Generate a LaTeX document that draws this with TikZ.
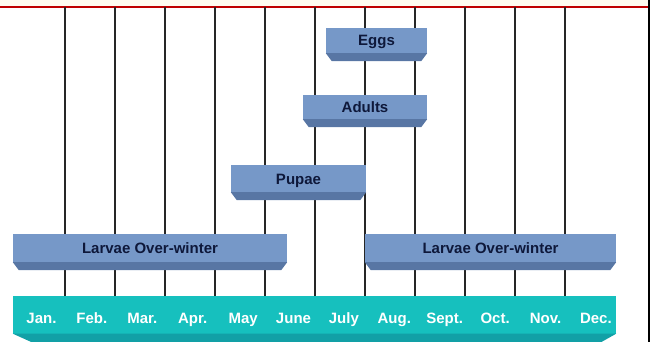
\documentclass[tikz,border=0pt]{standalone}
\usepackage{fontspec}
\setmainfont{Liberation Sans}
\usetikzlibrary{calc}
\definecolor{barface}{RGB}{118,152,200}
\definecolor{barshade}{RGB}{88,118,164}
\definecolor{barink}{RGB}{14,24,58}
\definecolor{monthface}{RGB}{22,192,190}
\definecolor{monthshade}{RGB}{18,160,166}
\definecolor{topstrip}{RGB}{255,252,240}
\tikzset{
  stagebar/.style={fill=barface, inner sep=0pt, text=barink,
    text height=11pt, text depth=0pt,
    font=\fontsize{15}{17}\selectfont\bfseries},
  monthlabel/.style={text=white, inner sep=0pt, anchor=base,
    font=\fontsize{15}{17}\selectfont\bfseries},
  gridline/.style={line width=1.3pt, black!85}
}
\begin{document}
\begin{tikzpicture}[x=1pt, y=-1pt]
    \useasboundingbox (0,0) rectangle (650,342);

    % Top strip and frame
    \fill[topstrip] (0,0) rectangle (648,7);
    \draw[red!75!black, line width=1.2pt] (0,7) -- (648,7);
    \draw[black, line width=1.5pt] (649,0) -- (649,342);

    % Month grid
    \foreach \k in {0,...,10}
    \draw[gridline] (65+50*\k, 7) -- (65+50*\k, 296);

    % Month bar
    \node[fill=monthface, minimum width=603pt, minimum height=38pt, inner sep=0pt] (months) at (314.5,314.5) {};
    \fill[monthshade] (months.south west) -- (months.south east) -- ++(-16,9) -- ($(months.south west)+(20,9)$) -- cycle;
    \foreach \m [count=\i from 0] in {Jan.,Feb.,Mar.,Apr.,May,June,July,Aug.,Sept.,Oct.,Nov.,Dec.}
    \node[monthlabel] (m\i) at (41.5+50.4*\i, 323.5) {\m};

    % Life stages
    \node[stagebar, minimum width=101pt, minimum height=25pt] (eggs) at (376.5,40.5) {Eggs};
    \node[stagebar, minimum width=124pt, minimum height=24pt] (adults) at (365,107) {Adults};
    \node[stagebar, minimum width=135pt, minimum height=27pt] (pupae) at (298.5,178.5) {Pupae};
    \node[stagebar, minimum width=274pt, minimum height=28pt] (larvaeA) at (150,248) {Larvae Over-winter};
    \node[stagebar, minimum width=251pt, minimum height=28pt] (larvaeB) at (490.5,248) {Larvae Over-winter};

    % Bevels under the stages
    \foreach \s in {eggs,adults,pupae,larvaeA,larvaeB}
    \fill[barshade] (\s.south west) -- (\s.south east) -- ++(-6,8) -- ($(\s.south west)+(6,8)$) -- cycle;
\end{tikzpicture}
\end{document}
